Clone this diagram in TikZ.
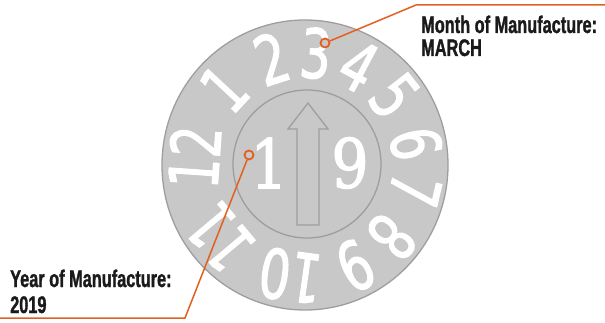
\documentclass[tikz,border=0pt]{standalone}
\usepackage{fontspec}
\usetikzlibrary{calc}
\newfontfamily\ringfont[FakeStretch=0.72,FakeBold=1.6]{DejaVu Sans}
\newfontfamily\centerfont[FakeStretch=0.86,FakeBold=1.8]{DejaVu Serif}
\newfontfamily\labelfont[FakeStretch=0.68,FakeBold=1.2]{Liberation Sans}
\definecolor{diskgray}{HTML}{C8C8C8}
\definecolor{edgegray}{HTML}{9E9E9E}
\definecolor{leader}{HTML}{E2601F}
\definecolor{labeltext}{HTML}{1A1A1A}
\tikzset{
  ringnum/.style={inner sep=0pt, text=white, font=\ringfont\fontsize{68}{68}\selectfont},
  centernum/.style={inner sep=0pt, text=white, font=\centerfont\fontsize{68}{68}\selectfont},
  lbl/.style={inner sep=0pt, anchor=base west, text=labeltext, font=\labelfont\bfseries\fontsize{24}{24}\selectfont},
  marker/.style={circle, draw=leader, fill=diskgray, line width=1.8pt, minimum size=9pt, inner sep=0pt},
  leaderline/.style={draw=leader, line width=1.5pt},
  disk/.style={fill=diskgray, draw=edgegray, line width=1.3pt}
}
\begin{document}
\begin{tikzpicture}[x=1pt,y=1pt]
\useasboundingbox (0,0) rectangle (605,322);
% disks
\path[disk] (305,157) ellipse [x radius=143, y radius=145];
\path[disk] (307,158) circle [radius=74];
\coordinate (c) at (306,157);
% arrow
\path[disk] (308,219) -- (328,193) -- (319,193) -- (319,97) -- (297,97) -- (297,193) -- (288,193) -- cycle;
% ring numbers
\foreach \n/\a in {1/137, 2/108, 3/85, 4/62, 5/38, 6/11, 7/-13, 8/-40, 9/-64, 10/-98, 11/-140, 12/176}{
  \pgfmathsetmacro{\rot}{\a-90}
  \node[ringnum, rotate=\rot] (r\n) at ($(c)+(\a:112)$) {\n};
}
% centre numbers
\node[centernum] (yr1) at (269,159) {1};
\node[centernum] (yr9) at (350,159) {9};
% leaders
\node[marker] (mm) at (325,279) {};
\coordinate (mbend) at (416,317);
\coordinate (mend) at (605,317);
\node[marker] (ym) at (249,167) {};
\coordinate (ybend) at (185,4);
\coordinate (yend) at (0,4);
\draw[leaderline] (mm) -- (mbend) -- (mend);
\draw[leaderline] (ym) -- (ybend) -- (yend);
% labels
\node[lbl] (monthA) at (421,289) {Month of Manufacture:};
\node[lbl] (monthB) at (421,266) {MARCH};
\node[lbl] (yearA) at (10,35) {Year of Manufacture:};
\node[lbl] (yearB) at (10,9) {2019};
\end{tikzpicture}
\end{document}
